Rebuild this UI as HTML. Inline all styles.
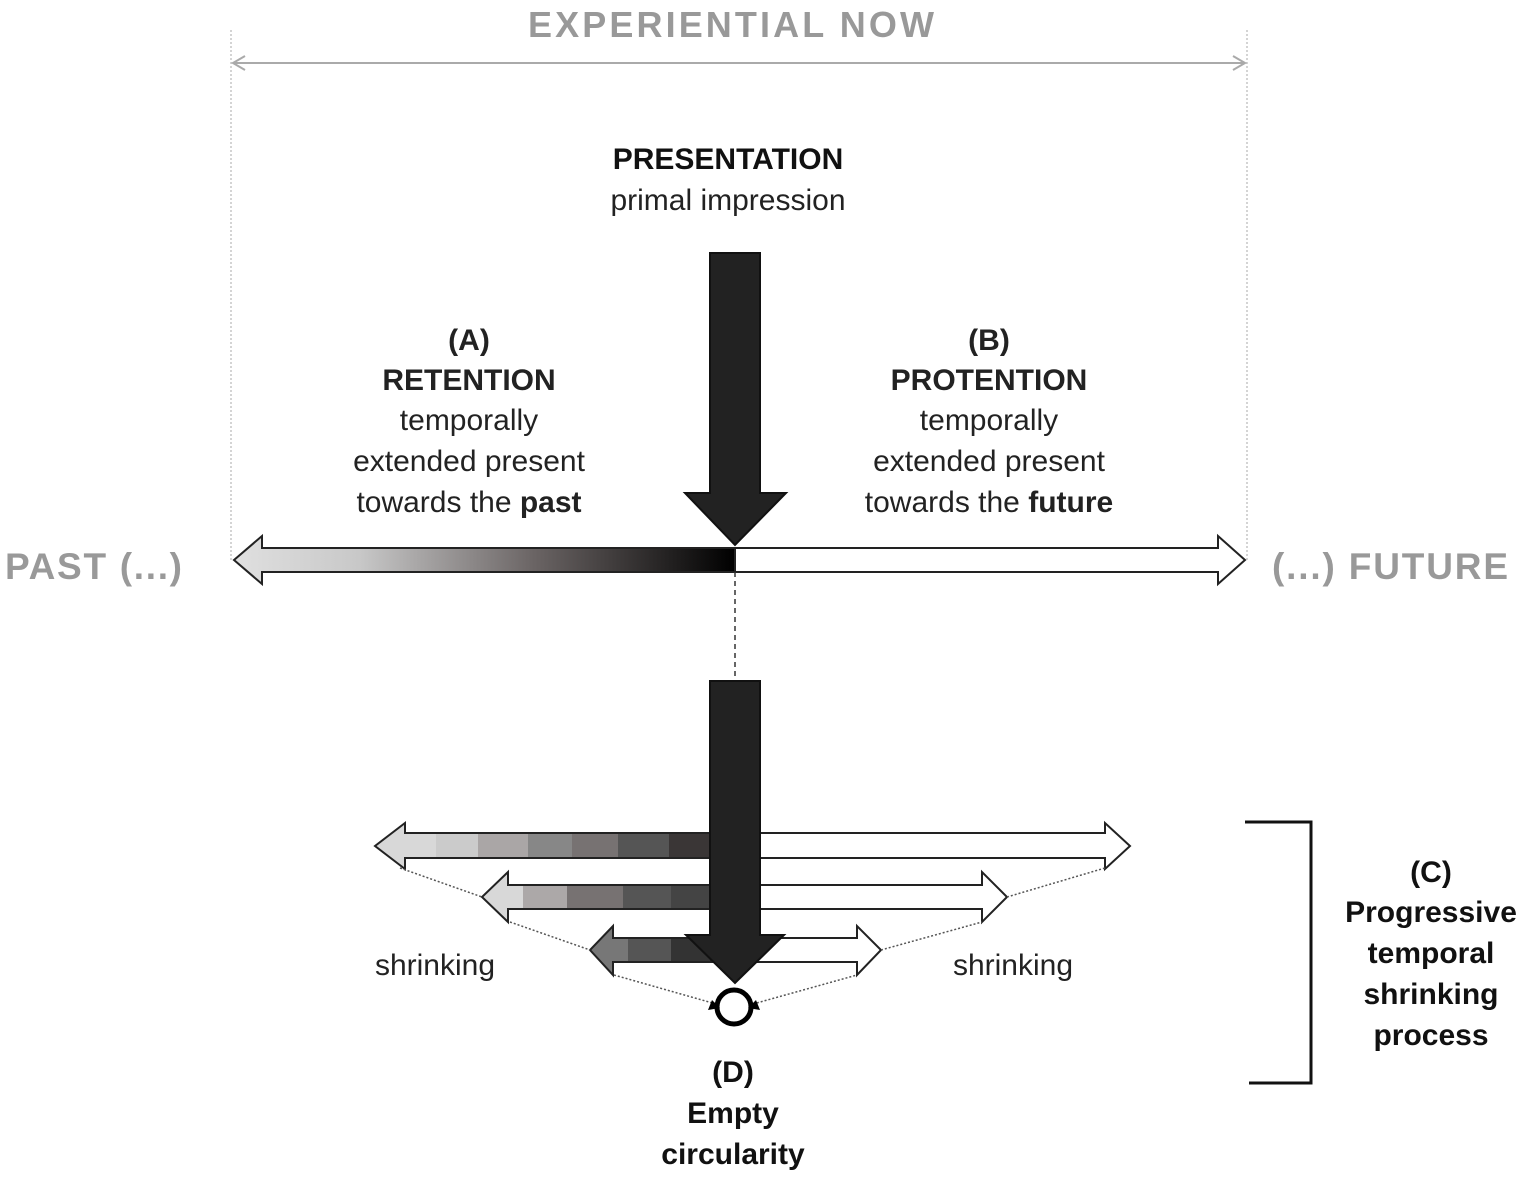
<!DOCTYPE html>
<html><head><meta charset="utf-8"><style>
html,body{margin:0;padding:0;background:#fff;}
svg text{font-family:"Liberation Sans",Arial,sans-serif;}
</style></head><body>
<svg width="1535" height="1179" viewBox="0 0 1535 1179" xmlns="http://www.w3.org/2000/svg">
<defs>
<linearGradient id="g1" x1="234" y1="0" x2="735" y2="0" gradientUnits="userSpaceOnUse">
<stop offset="0" stop-color="#e0e0e0"/><stop offset="0.25" stop-color="#c8c8c8"/><stop offset="0.6" stop-color="#6a6464"/><stop offset="1" stop-color="#000"/>
</linearGradient>
</defs>
<!-- top -->
<text x="731" y="37" font-size="36" font-weight="bold" fill="#999" text-anchor="middle" textLength="406">EXPERIENTIAL NOW</text>
<line x1="231" y1="30" x2="231" y2="560" stroke="#aaa" stroke-width="1" stroke-dasharray="2,2"/>
<line x1="1247" y1="30" x2="1247" y2="560" stroke="#aaa" stroke-width="1" stroke-dasharray="2,2"/>
<line x1="233" y1="63" x2="1245" y2="63" stroke="#aaa" stroke-width="2"/>
<polyline points="245,56 233,63 245,70" fill="none" stroke="#aaa" stroke-width="2"/>
<polyline points="1233,56 1245,63 1233,70" fill="none" stroke="#aaa" stroke-width="2"/>
<text x="728" y="169" font-size="30" font-weight="bold" fill="#111" text-anchor="middle">PRESENTATION</text>
<text x="728" y="210" font-size="30" fill="#222" text-anchor="middle">primal impression</text>
<!-- big arrow 1 -->
<polygon points="710,253 760,253 760,493 786,493 735,545 685,493 710,493" fill="#222" stroke="#111" stroke-width="2"/>
<!-- A / B -->
<g font-size="30" fill="#222" text-anchor="middle">
<text x="469" y="350" font-weight="bold">(A)</text>
<text x="469" y="390" font-weight="bold">RETENTION</text>
<text x="469" y="430">temporally</text>
<text x="469" y="471">extended present</text>
<text x="469" y="512">towards the <tspan font-weight="bold">past</tspan></text>
<text x="989" y="350" font-weight="bold">(B)</text>
<text x="989" y="390" font-weight="bold">PROTENTION</text>
<text x="989" y="430">temporally</text>
<text x="989" y="471">extended present</text>
<text x="989" y="512">towards the <tspan font-weight="bold">future</tspan></text>
</g>
<!-- main bar -->
<polygon points="735,548 262,548 262,536 234,560 262,584 262,572 735,572" fill="url(#g1)" stroke="#222" stroke-width="2"/>
<polygon points="735,548 1218,548 1218,536 1245,560 1218,584 1218,572 735,572" fill="#fff" stroke="#222" stroke-width="2"/>
<text x="5" y="579" font-size="37" font-weight="bold" fill="#999" textLength="177">PAST (...)</text>
<text x="1272" y="579" font-size="37" font-weight="bold" fill="#999" textLength="236">(...) FUTURE</text>
<line x1="735" y1="572" x2="735" y2="680" stroke="#333" stroke-width="1.5" stroke-dasharray="5,4"/>
<!-- small arrows -->
<!-- arrow1 -->
<polygon points="710,833 1105,833 1105,823 1130,846 1105,869 1105,858 710,858" fill="#fff" stroke="#222" stroke-width="2"/>
<polygon points="710,833 405,833 405,823 375,846 405,869 405,858 710,858" fill="#d8d8d8" stroke="#222" stroke-width="2"/>
<rect x="436" y="834" width="42" height="23" fill="#cbcbcb"/>
<rect x="478" y="834" width="50" height="23" fill="#aaa6a6"/>
<rect x="528" y="834" width="44" height="23" fill="#878787"/>
<rect x="572" y="834" width="46" height="23" fill="#777272"/>
<rect x="618" y="834" width="51" height="23" fill="#555"/>
<rect x="669" y="834" width="41" height="23" fill="#3a3636"/>
<!-- arrow2 -->
<polygon points="710,885 982,885 982,872 1007,897 982,922 982,909 710,909" fill="#fff" stroke="#222" stroke-width="2"/>
<polygon points="710,885 508,885 508,872 482,897 508,922 508,909 710,909" fill="#d8d8d8" stroke="#222" stroke-width="2"/>
<rect x="523" y="886" width="44" height="22" fill="#aca8a8"/>
<rect x="567" y="886" width="56" height="22" fill="#777272"/>
<rect x="623" y="886" width="48" height="22" fill="#555"/>
<rect x="671" y="886" width="39" height="22" fill="#444"/>
<!-- arrow3 -->
<polygon points="710,938 857,938 857,926 881,950 857,975 857,962 710,962" fill="#fff" stroke="#222" stroke-width="2"/>
<polygon points="710,938 613,938 613,926 590,950 613,975 613,962 710,962" fill="#777" stroke="#222" stroke-width="2"/>
<rect x="628" y="939" width="43" height="22" fill="#555"/>
<rect x="671" y="939" width="39" height="22" fill="#333"/>
<!-- dotted lines -->
<g stroke="#555" stroke-width="1.5" stroke-dasharray="2,2">
<line x1="400" y1="868" x2="482" y2="897"/>
<line x1="510" y1="922" x2="590" y2="950"/>
<line x1="614" y1="975" x2="716" y2="1004"/>
<line x1="1007" y1="897" x2="1105" y2="868"/>
<line x1="881" y1="950" x2="982" y2="922"/>
<line x1="753" y1="1004" x2="857" y2="975"/>
</g>
<!-- big arrow 2 -->
<polygon points="710,681 760,681 760,935 784,935 735,983 686,935 710,935" fill="#222" stroke="#111" stroke-width="2"/>
<!-- circle -->
<circle cx="734" cy="1007" r="17" fill="#fff" stroke="#000" stroke-width="5"/>
<polygon points="712,1000 720,1008 708,1010" fill="#000"/>
<polygon points="756,1000 748,1008 760,1010" fill="#000"/>
<text x="435" y="975" font-size="30" fill="#222" text-anchor="middle">shrinking</text>
<text x="1013" y="975" font-size="30" fill="#222" text-anchor="middle">shrinking</text>
<!-- bracket -->
<polyline points="1245,822 1311,822 1311,1083 1249,1083" fill="none" stroke="#111" stroke-width="3"/>
<g font-size="30" font-weight="bold" fill="#111" text-anchor="middle">
<text x="1431" y="882">(C)</text>
<text x="1431" y="922">Progressive</text>
<text x="1431" y="963">temporal</text>
<text x="1431" y="1004">shrinking</text>
<text x="1431" y="1045">process</text>
<text x="733" y="1082">(D)</text>
<text x="733" y="1123">Empty</text>
<text x="733" y="1164">circularity</text>
</g>
</svg>
</body></html>
